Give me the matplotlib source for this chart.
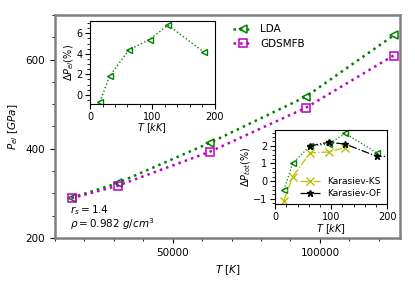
import matplotlib
matplotlib.use("Agg")
import matplotlib.pyplot as plt
from matplotlib.ticker import AutoMinorLocator

# temperatures in K
T_main = [15625, 31250, 62500, 95250, 125000]
P_lda = [290, 323, 413, 517, 654]
P_gdsmfb = [289, 317, 393, 492, 609]

# inset temperatures in kK
T_kk = [15.625, 31.25, 62.5, 95.25, 125.0, 181.825]
dP_el = [-0.7, 1.8, 4.4, 5.4, 6.8, 4.2]

dP_tot_lda = [-0.49, 1.0, 2.0, 2.1, 2.7, 1.6]
T_ks = [15.625, 31.25, 62.5, 95.25, 125.0]
dP_tot_ks = [-1.1, 0.25, 1.6, 1.65, 1.9]
T_of = [62.5, 95.25, 125.0, 181.825, 250.0]
dP_tot_of = [2.0, 2.2, 2.1, 1.4, 1.4]

plt.rcParams["font.family"] = ["DejaVu Sans"]
plt.rcParams["mathtext.fontset"] = "dejavusans"

fig = plt.figure(figsize=(4.15, 2.85), dpi=100)
ax = fig.add_axes([0.1325, 0.165, 0.8313, 0.7825])

ax.plot(T_main, P_lda, ":", color="g", lw=1.8, marker="<", ms=6,
        mfc="none", mew=1.1, label="LDA")
ax.plot(T_main, P_gdsmfb, ":", color="m", lw=1.8, marker="s", ms=6,
        mfc="none", mew=1.1, label="GDSMFB")

ax.set_xlim(10000, 127200)
ax.set_ylim(200, 700)
ax.set_xticks([50000, 100000])
ax.set_yticks([200, 400, 600])
ax.xaxis.set_minor_locator(AutoMinorLocator(5))
ax.yaxis.set_minor_locator(AutoMinorLocator(4))
ax.tick_params(labelsize=7.5)
for s in ax.spines.values():
    s.set_color("#808080")
    s.set_linewidth(1.8)
ax.set_xlabel("$T\\ [K]$", fontsize=7.5)
ax.set_ylabel("$P_{el}\\ [GPa]$", fontsize=7.5)
ax.legend(loc="upper left", bbox_to_anchor=(0.49, 1.0), frameon=False,
          fontsize=7.5, handlelength=1.8, labelspacing=0.45)
ax.text(0.043, 0.025, "$r_s = 1.4$\n$\\rho = 0.982\\ g/cm^3$",
        transform=ax.transAxes, fontsize=7.5, va="bottom", linespacing=1.0)

# inset 1: electronic pressure difference
ax1 = fig.add_axes([0.2169, 0.635, 0.301, 0.291])
ax1.plot(T_kk, dP_el, ":", color="g", lw=1, marker="<", ms=5,
         mfc="none", mew=1)
ax1.set_xlim(0, 200)
ax1.set_ylim(-0.9, 7.2)
ax1.set_xticks([0, 100, 200])
ax1.set_yticks([0, 2, 4, 6])
ax1.xaxis.set_minor_locator(AutoMinorLocator(5))
ax1.yaxis.set_minor_locator(AutoMinorLocator(4))
ax1.tick_params(labelsize=7, pad=2)
ax1.set_xlabel("$T\\ [kK]$", fontsize=7, labelpad=0)
ax1.set_ylabel("$\\Delta P_{el}(\\%)$", fontsize=7, labelpad=0)

# inset 2: total pressure difference
ax2 = fig.add_axes([0.663, 0.284, 0.27, 0.26])
ax2.plot(T_kk, dP_tot_lda, ":", color="g", lw=0.9, marker="<", ms=5,
         mfc="none", mew=1)
ax2.plot(T_ks, dP_tot_ks, "-.", color="y", lw=0.9, marker="x", ms=6,
         mew=1, label="Karasiev-KS")
ax2.plot(T_of, dP_tot_of, "-.", color="k", lw=0.9, marker="*", ms=5,
         label="Karasiev-OF")
ax2.set_xlim(0, 200)
ax2.set_ylim(-1.3, 2.9)
ax2.set_xticks([0, 100, 200])
ax2.set_yticks([-1, 0, 1, 2])
ax2.xaxis.set_minor_locator(AutoMinorLocator(5))
ax2.yaxis.set_minor_locator(AutoMinorLocator(4))
ax2.tick_params(labelsize=7, pad=2)
ax2.set_xlabel("$T\\ [kK]$", fontsize=7, labelpad=0)
ax2.set_ylabel("$\\Delta P_{tot}(\\%)$", fontsize=7, labelpad=0)
ax2.legend(loc="lower right", frameon=False, fontsize=6.5,
           handlelength=2.2, borderaxespad=0.3, labelspacing=0.3)

fig.savefig("out.png", dpi=100)
